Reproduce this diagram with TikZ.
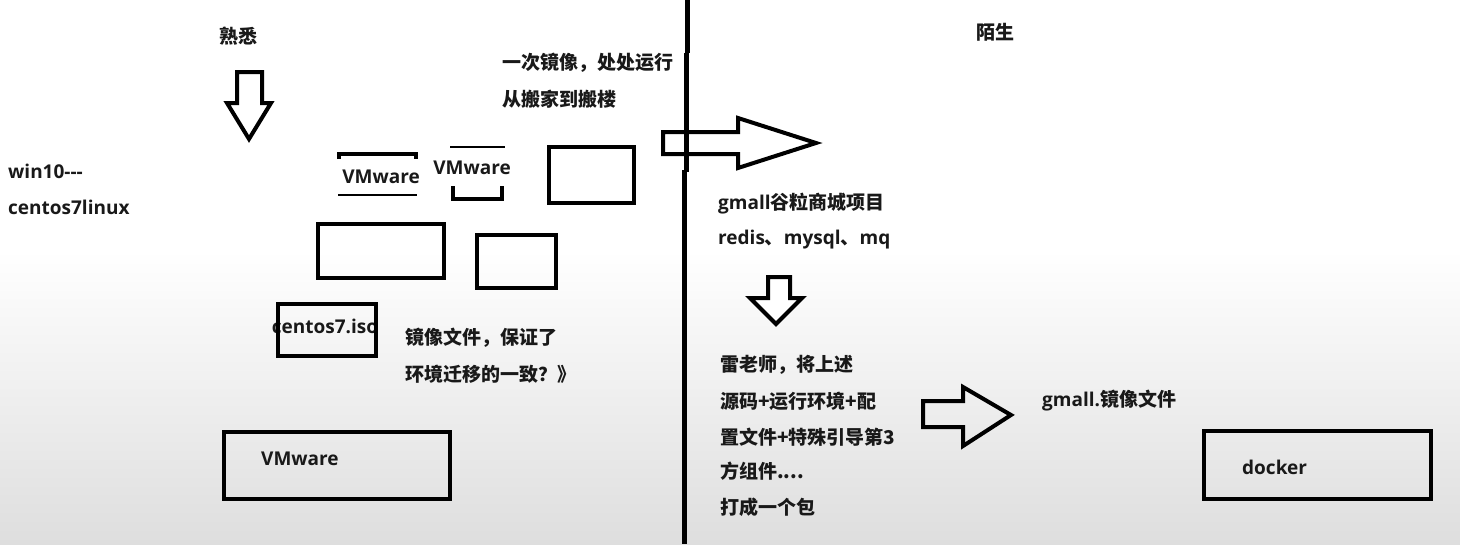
\documentclass[tikz,border=0pt]{standalone}
\usepackage{fontspec}
\setmainfont{Open Sans}[Ligatures=NoCommon]
\newfontfamily\cjk{Noto Sans CJK SC}
\newcommand\z[1]{{\cjk\bfseries #1}}
\begin{document}
\begin{tikzpicture}[x=1pt,y=-1pt,
  txt/.style={anchor=west,inner sep=0pt,font=\fontsize{19}{22}\selectfont\bfseries,text=black!90},
  box/.style={draw=black,line width=4pt},
  arrowshape/.style={draw=black,line width=4pt,line join=miter},
  thinline/.style={line width=2.2pt},
  thickline/.style={line width=4pt}]
\useasboundingbox (0,0) rectangle (1460,544);
% background
\fill[white] (0,0) rectangle (1460,544);
\shade[top color=white,bottom color={rgb,255:red,222;green,222;blue,222}] (0,250) rectangle (1460,544);

% left side texts
\node[txt,anchor=center] (shuxi) at (238,36) {\z{熟悉}};
\node[txt] (win) at (8,171) {win10{-}{-}{-}};
\node[txt] (cent) at (8,207) {centos7linux};
\node[txt] (once1) at (502,63) {\z{一次镜像，处处运行}};
\node[txt] (once2) at (502,99) {\z{从搬家到搬楼}};
\node[txt] (img1) at (405,338) {\z{镜像文件，保证了}};
\node[txt] (img2) at (405,374) {\z{环境迁移的一致？》}};

% down arrow left
\draw[arrowshape,fill=white] (237,72) -- (262,72) -- (262,103) -- (271,103) -- (249,139) -- (227,103) -- (237,103) -- cycle;

% VMware 1 (brackets)
\node[txt,anchor=center] (vm1) at (381,177) {VMware};
\draw[thickline] (339,159) -- (339,154) -- (416,154) -- (416,159);
\draw[thinline] (338,195) -- (417,195);
% VMware 2
\node[txt,anchor=center] (vm2) at (472,168) {VMware};
\draw[thinline] (450,147) -- (505,147);
\draw[thickline] (453,186) -- (453,199) -- (502,199) -- (502,186);

% empty boxes
\draw[box] (549,147) rectangle (634,203);
\draw[box] (318,224) rectangle (444,278);
\draw[box] (477,235) rectangle (556,288);

% centos7.iso box
\node[txt,anchor=center] (iso) at (325,326) {centos7.iso};
\draw[box] (278,304) rectangle (376,356);

% VMware bottom box
\draw[box] (224,432) rectangle (450,499);
\node[txt] (vm3) at (261,459) {VMware};

% big right arrow across divider
\draw[arrowshape] (663,132) -- (738,132) -- (738,118) -- (816,143) -- (738,168) -- (738,154) -- (663,154) -- cycle;

% divider (drawn over the arrow)
\draw[line width=5pt] (687,0) -- (687,53);
\draw[line width=5pt] (686,53) -- (686,172);
\draw[line width=5pt] (684,170) -- (684,544);

% right side
\node[txt,anchor=center] (mosheng) at (995,32) {\z{陌生}};
\node[txt] (gmall) at (718,204) {gmall\z{谷粒商城项目}};
\node[txt] (redis) at (718,240) {redis\z{、}mysql\z{、}mq};
\draw[arrowshape,fill=white] (768,277) -- (790,277) -- (790,298) -- (802,298) -- (776,324) -- (750,298) -- (768,298) -- cycle;

\node[txt] (l1) at (720,365) {\z{雷老师，将上述}};
\node[txt] (l2) at (720,401) {\z{源码+运行环境+配}};
\node[txt] (l3) at (720,437) {\z{置文件+特殊引导第3}};
\node[txt] (l4) at (720,471) {\z{方组件....}};
\node[txt] (l5) at (720,507) {\z{打成一个包}};

\draw[arrowshape] (923,401) -- (963,401) -- (963,387) -- (1011,415) -- (963,446) -- (963,427) -- (923,427) -- cycle;
\node[txt] (gimg) at (1042,401) {gmall.\z{镜像文件}};

\draw[box] (1204,431) rectangle (1431,499);
\node[txt] (docker) at (1242,467) {docker};
\end{tikzpicture}
\end{document}
